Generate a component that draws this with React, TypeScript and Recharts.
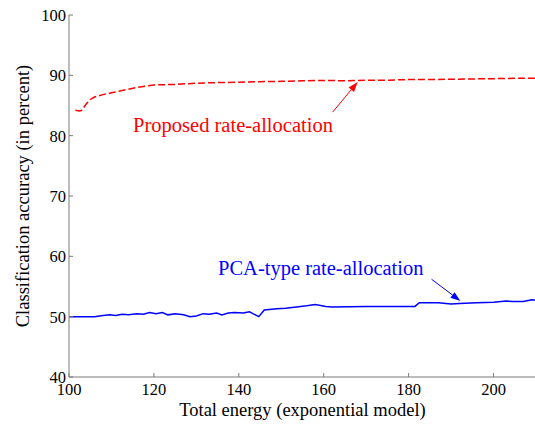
import React from "react";
import {LineChart, Line, XAxis, YAxis, ReferenceLine, ReferenceDot} from "recharts";

const proposedX = [101.5, 102.5, 103, 104, 105, 106, 108, 110, 112, 114, 116, 118, 120, 125, 130, 135, 140, 145, 150, 155, 160, 165, 170, 175, 180, 185, 190, 195, 200, 205, 210]
const proposedY = [84.2, 84.1, 84.2, 85.2, 86.0, 86.4, 86.8, 87.1, 87.4, 87.7, 88.0, 88.2, 88.4, 88.5, 88.7, 88.8, 88.85, 88.95, 89.0, 89.1, 89.15, 89.1, 89.2, 89.2, 89.3, 89.3, 89.35, 89.4, 89.45, 89.5, 89.5]

const pcaX = [100, 106, 108, 109.6, 111, 112.5, 114, 116, 117.5, 119, 120.5, 122, 123.3, 125, 127, 128.5, 130, 131.6, 133, 134.8, 136, 137.5, 139, 141, 142.5, 144.7, 146, 149, 151, 153.6, 156, 158, 160.5, 162, 170, 181.5, 182.5, 187, 190, 192, 196, 200, 203, 204.5, 207, 209, 210]
const pcaY = [50.0, 50.0, 50.2, 50.3, 50.2, 50.4, 50.3, 50.5, 50.4, 50.7, 50.5, 50.7, 50.3, 50.5, 50.3, 50.0, 50.1, 50.5, 50.4, 50.6, 50.3, 50.6, 50.7, 50.6, 50.8, 50.0, 51.1, 51.3, 51.4, 51.6, 51.8, 52.0, 51.7, 51.6, 51.7, 51.7, 52.3, 52.3, 52.1, 52.2, 52.3, 52.4, 52.6, 52.5, 52.5, 52.8, 52.7]

const xTicks = [100, 120, 140, 160, 180, 200]
const yTicks = [40, 50, 60, 70, 80, 90, 100]

const proposedData = proposedX.map((x, i) => ({x, y: proposedY[i]}))
const pcaData = pcaX.map((x, i) => ({x, y: pcaY[i]}))

const FONT = "Liberation Serif, DejaVu Serif, Times New Roman, serif"
const AXIS = "#7a7a7a"
const RED = "#ff0000"
const BLUE = "#0000ff"

const arrow = (color: string) => (p: any) => {
    const {x1, y1, x2, y2} = p
    const ang = Math.atan2(y2 - y1, x2 - x1)
    const len = 10, w = 3.5
    const bx = x2 - len * Math.cos(ang), by = y2 - len * Math.sin(ang)
    const px = -Math.sin(ang) * w, py = Math.cos(ang) * w
    return <g>
        <line x1={x1} y1={y1} x2={bx} y2={by} stroke={color} strokeWidth={1}/>
        <polygon points={`${x2},${y2} ${bx + px},${by + py} ${bx - px},${by - py}`} fill={color}/>
    </g>
}

const note = (text: string, color: string) => (p: any) =>
    <text x={p.cx} y={p.cy} fill={color} fontSize={20.5} style={{fontFamily: FONT}} dominantBaseline="central">{text}</text>

export default function App() {
    return <div style={{position: 'absolute', left: 0, top: 0, background: '#fff', fontFamily: FONT}}>
        <LineChart width={537} height={427} margin={{top: 15, right: 1, left: 0, bottom: 0}} style={{fontFamily: FONT}}>
            <XAxis xAxisId="b" dataKey="x" type="number" domain={[100, 210]} ticks={xTicks} allowDataOverflow
                   height={50} stroke={AXIS} tickSize={-4} tickMargin={10}
                   tick={{fill: '#000', fontSize: 16.5, style: {fontFamily: FONT}}}
                   label={{
                       content: (p: any) => <text x={p.viewBox.x + p.viewBox.width / 2} y={p.viewBox.y + 39}
                                                  textAnchor="middle" fontSize={18.5} style={{fontFamily: FONT}}
                                                  fill="#000">Total energy (exponential model)</text>
                   }}/>
            <XAxis xAxisId="t" orientation="top" dataKey="x" type="number" domain={[100, 210]} ticks={xTicks}
                   height={0} stroke={AXIS} mirror tickSize={4} tickFormatter={() => ''}/>
            <YAxis yAxisId="l" type="number" domain={[40, 100]} ticks={yTicks} width={69} stroke={AXIS}
                   tickSize={-4} tickMargin={7} tick={{fill: '#000', fontSize: 16.5, style: {fontFamily: FONT}}}
                   label={{
                       content: (p: any) => <text transform={`translate(29, ${p.viewBox.y + p.viewBox.height / 2}) rotate(-90)`}
                                                  textAnchor="middle" fontSize={18.5} style={{fontFamily: FONT}}
                                                  fill="#000">Classification accuracy (in percent)</text>
                   }}/>
            <YAxis yAxisId="r" orientation="right" type="number" domain={[40, 100]} ticks={yTicks} width={0}
                   stroke={AXIS} mirror tickSize={4} tickFormatter={() => ''}/>
            <Line xAxisId="b" yAxisId="l" data={proposedData} dataKey="y" stroke={RED} strokeWidth={1.5}
                  strokeDasharray="7 3" dot={false} isAnimationActive={false}/>
            <Line xAxisId="b" yAxisId="l" data={pcaData} dataKey="y" stroke={BLUE} strokeWidth={1.5}
                  dot={false} isAnimationActive={false}/>
            <ReferenceLine xAxisId="b" yAxisId="l" segment={[{x: 162.1, y: 83.9}, {x: 168.0, y: 88.9}]}
                           shape={arrow(RED)}/>
            <ReferenceLine xAxisId="b" yAxisId="l" segment={[{x: 185.4, y: 56.2}, {x: 192.2, y: 52.6}]}
                           shape={arrow(BLUE)}/>
            <ReferenceDot xAxisId="b" yAxisId="l" x={115.1} y={81.8} r={0} shape={note("Proposed rate-allocation", RED)}/>
            <ReferenceDot xAxisId="b" yAxisId="l" x={135.1} y={58.0} r={0} shape={note("PCA-type rate-allocation", BLUE)}/>
        </LineChart>
    </div>
}
